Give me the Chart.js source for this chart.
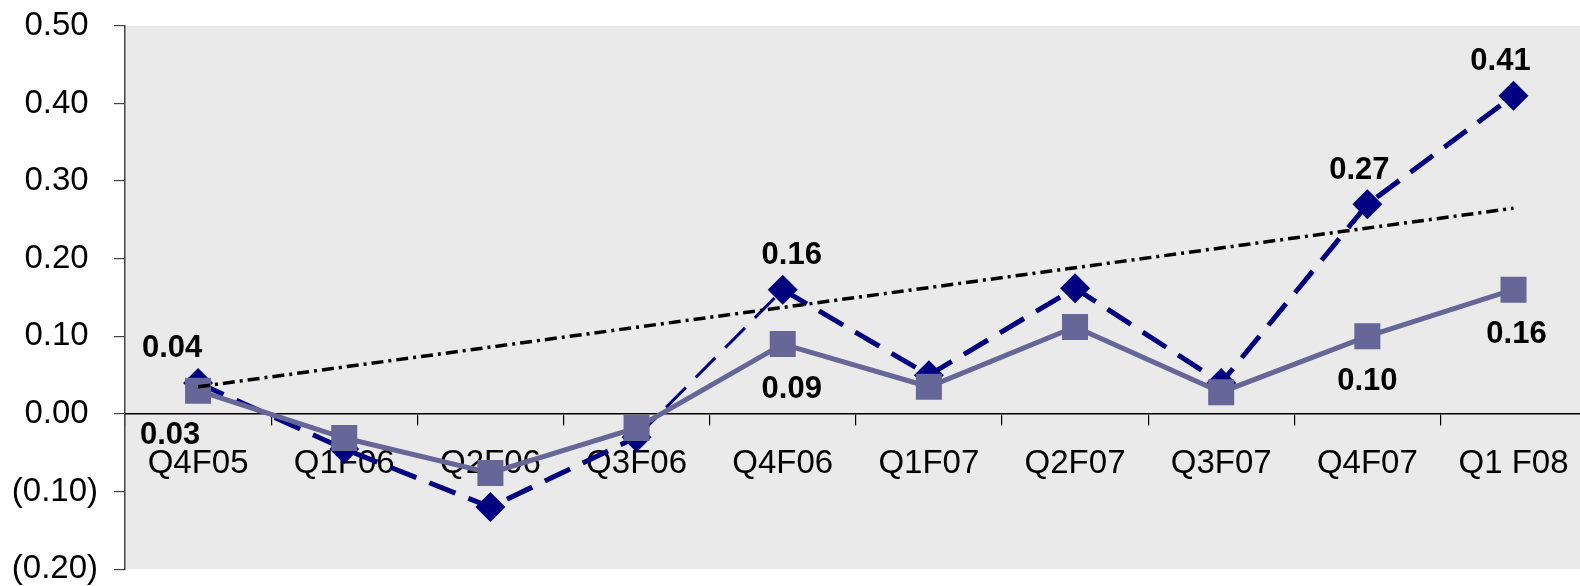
<!DOCTYPE html>
<html>
<head>
<meta charset="utf-8">
<script src="https://cdn.jsdelivr.net/npm/chart.js@4/dist/chart.umd.min.js"></script>
<style>
  html, body { margin: 0; padding: 0; background: #ffffff; overflow: hidden; }
  #wrap { position: relative; width: 1605px; height: 615px; margin-top: -10px; }
</style>
</head>
<body>
<div id="wrap"><canvas id="chart"></canvas></div>
<script>
// Quarterly values
const quarters = ['Q4F05', 'Q1F06', 'Q2F06', 'Q3F06', 'Q4F06', 'Q1F07', 'Q2F07', 'Q3F07', 'Q4F07', 'Q1 F08'];
const seriesA = [0.04, -0.045, -0.12, -0.03, 0.16, 0.05, 0.162, 0.04, 0.27, 0.41];
const seriesB = [0.03, -0.031, -0.076, -0.018, 0.09, 0.035, 0.112, 0.028, 0.10, 0.16];
// Trend line: start and end values only
const trendLine = [0.035, null, null, null, null, null, null, null, null, 0.265];
// Points that carry a value label
const labeledPoints = [0, 4, 8, 9];
// Y axis range
const yMin = -0.2, yMax = 0.5, yStep = 0.1;

const FONT = "'Liberation Sans', Arial, sans-serif";

// Label placement per series (pixel offsets from the point)
const labelPlacement = {
  0: { dy: -34, dx: { 0: -26, 4: 9, 8: -8, 9: -13 } },
  1: { dy: 45, dx: { 0: -28, 4: 9, 8: 0, 9: 3 } }
};

const plotBackground = {
  id: 'plotBackground',
  beforeDraw(chart) {
    const { ctx, chartArea: a } = chart;
    ctx.save();
    ctx.fillStyle = '#eaeaea';
    ctx.fillRect(a.left, a.top, a.right - a.left, a.bottom - a.top);
    ctx.restore();
  }
};

const valueLabels = {
  id: 'valueLabels',
  afterDatasetsDraw(chart) {
    const { ctx } = chart;
    ctx.save();
    ctx.font = 'bold 31px ' + FONT;
    ctx.fillStyle = '#000000';
    ctx.textAlign = 'center';
    ctx.textBaseline = 'middle';
    [0, 1].forEach(di => {
      const meta = chart.getDatasetMeta(di);
      const data = chart.data.datasets[di].data;
      const place = labelPlacement[di];
      labeledPoints.forEach(i => {
        const pt = meta.data[i];
        ctx.fillText(data[i].toFixed(2), pt.x + (place.dx[i] || 0), pt.y + place.dy);
      });
    });
    ctx.restore();
  }
};

new Chart(document.getElementById('chart'), {
  type: 'line',
  data: {
    labels: quarters,
    datasets: [
      {
        data: seriesA,
        borderColor: '#000080',
        backgroundColor: '#000080',
        borderWidth: 5,
        borderDash: [28, 14],
        // the steep climb into Q4F06 is drawn with a lighter stroke
        segment: { borderWidth: ctx => (ctx.p0DataIndex === 3 ? 3 : 5) },
        pointStyle: 'rectRot',
        pointRadius: 15,
        pointBorderWidth: 0,
        pointBackgroundColor: '#000080',
        tension: 0,
        order: 2
      },
      {
        data: seriesB,
        borderColor: '#666699',
        backgroundColor: '#666699',
        borderWidth: 5,
        pointStyle: 'rect',
        pointRadius: 18.4,
        pointBorderWidth: 0,
        pointBackgroundColor: '#666699',
        tension: 0,
        order: 1
      },
      {
        data: trendLine,
        spanGaps: true,
        borderColor: '#000000',
        borderWidth: 3.5,
        borderDash: [12, 5, 3, 5],
        pointRadius: 0,
        tension: 0,
        order: 0
      }
    ]
  },
  options: {
    responsive: true,
    maintainAspectRatio: false,
    animation: false,
    events: [],
    layout: { padding: { top: 26, right: 3, bottom: 0, left: 0 } },
    plugins: { legend: { display: false }, tooltip: { enabled: false } },
    scales: {
      x: {
        type: 'category',
        position: { y: 0 },
        offset: true,
        grid: { display: true, drawOnChartArea: false, drawTicks: true, tickLength: 11, color: '#000000', lineWidth: 1.2, offset: true },
        border: { display: true, color: '#000000', width: 1.5 },
        ticks: { color: '#000000', font: { family: FONT, size: 33 }, padding: 19, maxRotation: 0, autoSkip: false }
      },
      y: {
        min: yMin,
        max: yMax,
        grid: { display: true, drawOnChartArea: false, drawTicks: true, tickLength: 11, color: '#444444', lineWidth: 1.2 },
        border: { display: true, color: '#444444', width: 1.5 },
        ticks: {
          stepSize: yStep,
          color: '#000000',
          font: { family: FONT, size: 33 },
          padding: 16,
          callback: v => {
            const r = Math.round(v * 100) / 100;
            return r < 0 ? '(' + Math.abs(r).toFixed(2) + ')' : r.toFixed(2) + '\u2009\u200A';
          }
        },
        afterFit(scale) { scale.width = 125; }
      }
    }
  },
  plugins: [plotBackground, valueLabels]
});
</script>
</body>
</html>
